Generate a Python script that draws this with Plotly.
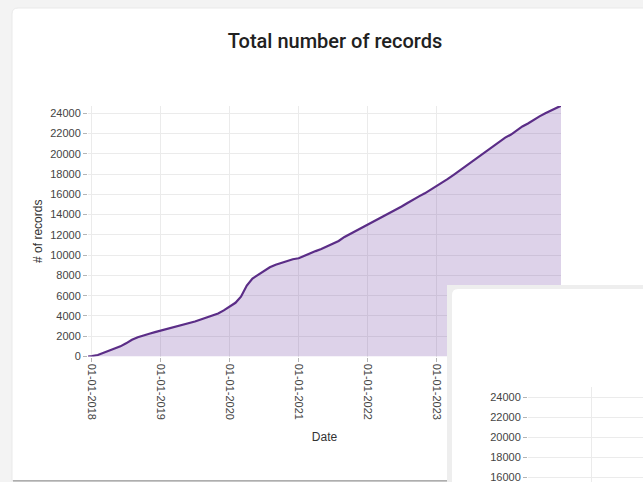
import plotly.graph_objects as go

# ---------------- data ----------------
dates = [
    "2017-12-11", "2018-01-01", "2018-02-01", "2018-03-01", "2018-04-01", "2018-05-01", "2018-06-01",
    "2018-07-01", "2018-08-01", "2018-09-01", "2018-10-01", "2018-11-01", "2018-12-01",
    "2019-01-01", "2019-02-01", "2019-03-01", "2019-04-01", "2019-05-01", "2019-06-01",
    "2019-07-01", "2019-08-01", "2019-09-01", "2019-10-01", "2019-11-01", "2019-12-01",
    "2020-01-01", "2020-02-01", "2020-03-01", "2020-04-01", "2020-05-01", "2020-06-01",
    "2020-07-01", "2020-08-01", "2020-09-01", "2020-10-01", "2020-11-01", "2020-12-01",
    "2021-01-01", "2021-02-01", "2021-03-01", "2021-04-01", "2021-05-01", "2021-06-01",
    "2021-07-01", "2021-08-01", "2021-09-01", "2021-10-01", "2021-11-01", "2021-12-01",
    "2022-01-01", "2022-02-01", "2022-03-01", "2022-04-01", "2022-05-01", "2022-06-01",
    "2022-07-01", "2022-08-01", "2022-09-01", "2022-10-01", "2022-11-01", "2022-12-01",
    "2023-01-01", "2023-02-01", "2023-03-01", "2023-04-01", "2023-05-01", "2023-06-01",
    "2023-07-01", "2023-08-01", "2023-09-01", "2023-10-01", "2023-11-01", "2023-12-01",
    "2024-01-01", "2024-02-01", "2024-03-01", "2024-04-01", "2024-05-01", "2024-06-01",
    "2024-07-01", "2024-08-01", "2024-09-01", "2024-10-01", "2024-10-23",
]
records = [
    0, 30, 150, 350, 600, 800, 1000,
    1300, 1650, 1900, 2100, 2250, 2400,
    2550, 2650, 2800, 2950, 3100, 3250,
    3450, 3650, 3850, 4050, 4250, 4550,
    4950, 5300, 5900, 7000, 7700, 8100,
    8450, 8800, 9050, 9250, 9450, 9600,
    9700, 9950, 10200, 10400, 10600, 10850,
    11100, 11400, 11800, 12100, 12400, 12700,
    13000, 13250, 13550, 13850, 14150, 14450,
    14800, 15150, 15500, 15800, 16100, 16450,
    16800, 17100, 17500, 17900, 18300, 18700,
    19100, 19600, 20000, 20400, 20800, 21200,
    21600, 21900, 22300, 22700, 23000, 23400,
    23700, 24000, 24300, 24600, 24750,
]

x_tick_vals = ["2018-01-01", "2019-01-01", "2020-01-01", "2021-01-01", "2022-01-01", "2023-01-01"]
x_tick_text = ["01-01-2018", "01-01-2019", "01-01-2020", "01-01-2021", "01-01-2022", "01-01-2023"]
y_tick_vals = list(range(0, 24001, 2000))
y_tick_text = [str(v) for v in y_tick_vals]
y2_tick_vals = [16000, 18000, 20000, 22000, 24000]
y2_tick_text = [str(v) for v in y2_tick_vals]

title_text = "Total number of records"
x_title = "Date"
y_title = "# of records"

# ---------------- layout helpers ----------------
W, H = 643, 482


def fx(p):
    return p / W


def fy(p):
    return 1 - p / H


LINE = "#5b2d87"
FILL = "rgba(102,51,153,0.22)"
GRID = "#ebebeb"
TICKC = "#b5b5b5"
TXT = "#444444"
FONT = "Liberation Sans, Arial, sans-serif"

fig = go.Figure()
fig.add_trace(go.Scatter(
    x=dates, y=records, mode="lines",
    line=dict(color=LINE, width=2.2),
    fill="tozeroy", fillcolor=FILL,
    xaxis="x", yaxis="y", hoverinfo="x+y", showlegend=False,
))
# card subplot (second card background)
fig.add_trace(go.Scatter(x=[None], y=[None], xaxis="x2", yaxis="y2", showlegend=False, hoverinfo="skip"))
# second (partially visible) chart
fig.add_trace(go.Scatter(x=[None], y=[None], xaxis="x3", yaxis="y3", showlegend=False, hoverinfo="skip"))

axis_common = dict(showline=False, zeroline=False, gridcolor=GRID, gridwidth=1.4,
                   ticks="outside", ticklen=4, tickcolor=TICKC, tickwidth=1,
                   tickfont=dict(family=FONT, size=11, color=TXT), automargin=False,
                   ticklabeloverflow="allow")

fig.update_layout(
    width=W, height=H,
    margin=dict(l=0, r=0, t=0, b=0),
    paper_bgcolor="#f3f3f3",
    plot_bgcolor="#ffffff",
    showlegend=False,
    font=dict(family=FONT, size=11, color=TXT),
    title=dict(text=title_text, x=fx(335), xanchor="center", y=fy(41), yanchor="middle",
               yref="container", xref="container",
               font=dict(family="Roboto, sans-serif", size=20, color="#212121", weight=500)),
    xaxis=dict(domain=[fx(88), fx(561)], type="date", range=["2017-12-11", "2024-10-23"],
               tickvals=x_tick_vals, ticktext=x_tick_text, tickangle=90,
               title=dict(text=x_title, font=dict(family=FONT, size=12, color="#333333"), standoff=13),
               anchor="y", **axis_common),
    yaxis=dict(domain=[fy(356.5), fy(106)], range=[0, 24720],
               tickvals=y_tick_vals, ticktext=y_tick_text,
               title=dict(text=y_title, font=dict(family=FONT, size=12, color="#333333"), standoff=5),
               anchor="x", **axis_common),
    xaxis2=dict(domain=[fx(447), 1], range=[0, 1], visible=False, anchor="y2", fixedrange=True),
    yaxis2=dict(domain=[0, fy(285)], range=[0, 1], visible=False, anchor="x2", fixedrange=True),
    xaxis3=dict(domain=[fx(528), 1], type="date", range=["2018-01-28", "2019-09-30"],
                tickvals=["2019-01-01"], showticklabels=False, anchor="y3",
                **{k: v for k, v in axis_common.items() if k not in ("ticks",)}),
    yaxis3=dict(domain=[0, fy(387)], range=[15500, 25000],
                tickvals=y2_tick_vals, ticktext=y2_tick_text, anchor="x3",
                **axis_common),
)
fig.update_xaxes(selector=dict(anchor="y3"), ticks="")

# ---------------- card decorations ----------------
r = 6
cx0, cy0, cy1 = fx(12), fy(480.5), fy(8)
rx, ry = r / W, r / H
card_path = (f"M {cx0},{cy0} L {cx0},{cy1 - ry} Q {cx0},{cy1} {cx0 + rx},{cy1} "
             f"L 1.02,{cy1} L 1.02,{cy0} Z")
shapes = [
    dict(type="path", path=card_path, xref="paper", yref="paper", layer="below",
         fillcolor="#ffffff", line=dict(color="#e9e9e9", width=1)),
    dict(type="line", xref="paper", yref="paper", x0=fx(13), x1=1.02, y0=fy(480.8), y1=fy(480.8),
         layer="below", line=dict(color="#9a9a9a", width=1.2)),
]
# second card: shadow + white rounded rect, drawn in the x2/y2 card subplot
dw = W - 447
dh = H - 285
ix0 = 5 / dw
iy1 = 1 - 4 / dh
rx2, ry2 = r / dw, r / dh
shapes += [
    dict(type="rect", xref="x2", yref="y2", x0=0, x1=1.05, y0=-0.05, y1=1.05, layer="below",
         fillcolor="#eeeeee", line=dict(width=0)),
    dict(type="path", xref="x2", yref="y2", layer="below",
         path=(f"M {ix0},-0.05 L {ix0},{iy1 - ry2} Q {ix0},{iy1} {ix0 + rx2},{iy1} "
               f"L 1.05,{iy1} L 1.05,-0.05 Z"),
         fillcolor="#ffffff", line=dict(width=0)),
]
fig.update_layout(shapes=shapes)

fig.write_html("out.html", config={"displayModeBar": False},
               post_script="document.body.style.margin='0';document.body.style.overflow='hidden';")
